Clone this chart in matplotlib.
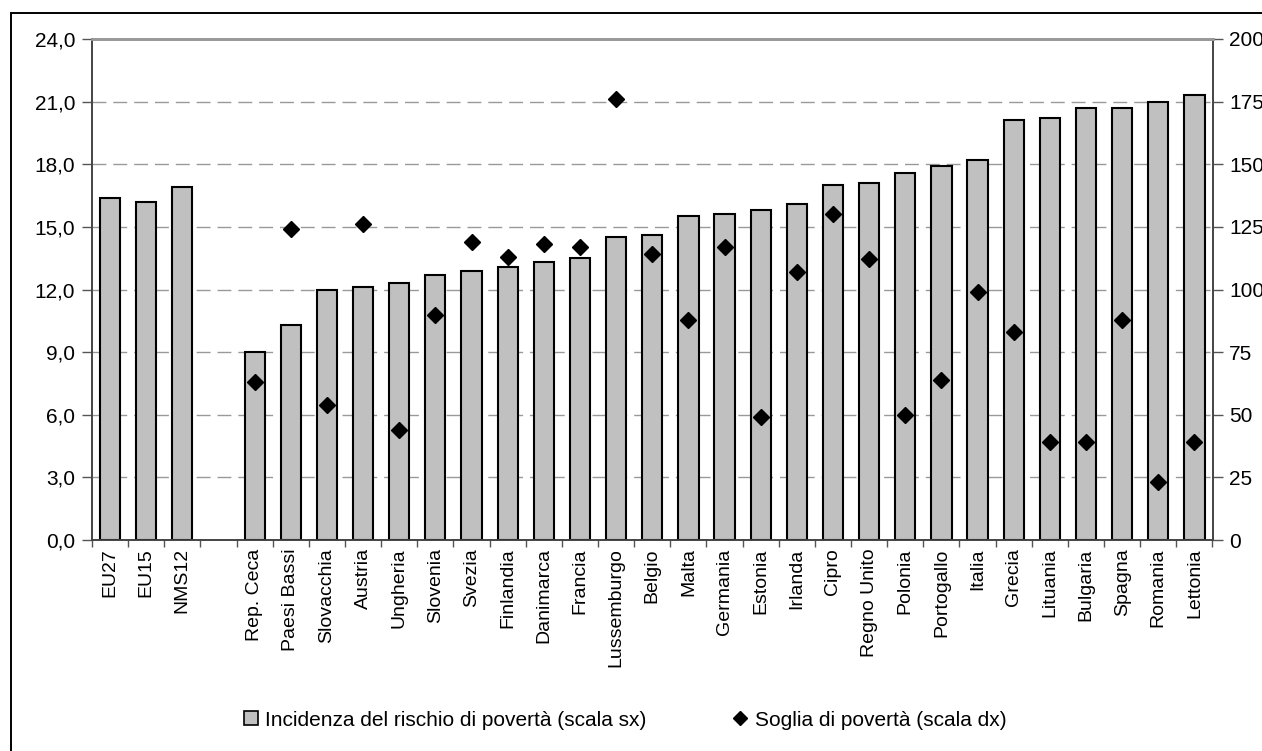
import numpy as np
import matplotlib
matplotlib.use("Agg")
import matplotlib.pyplot as plt
from matplotlib.patches import Rectangle
from matplotlib.lines import Line2D
from matplotlib.ticker import FixedLocator, FuncFormatter

plt.rcParams['font.family'] = ['Liberation Sans', 'DejaVu Sans']

## categories (empty slot separates the aggregates from the countries)
paesi = ['EU27', 'EU15', 'NMS12', '', 'Rep. Ceca', 'Paesi Bassi', 'Slovacchia',
         'Austria', 'Ungheria', 'Slovenia', 'Svezia', 'Finlandia', 'Danimarca',
         'Francia', 'Lussemburgo', 'Belgio', 'Malta', 'Germania', 'Estonia',
         'Irlanda', 'Cipro', 'Regno Unito', 'Polonia', 'Portogallo', 'Italia',
         'Grecia', 'Lituania', 'Bulgaria', 'Spagna', 'Romania', 'Lettonia']

# incidenza del rischio di poverta' (scala sx)
incidenza = [16.4, 16.2, 16.9, np.nan, 9.0, 10.3, 12.0,
             12.1, 12.3, 12.7, 12.9, 13.1, 13.3,
             13.5, 14.5, 14.6, 15.5, 15.6, 15.8,
             16.1, 17.0, 17.1, 17.6, 17.9, 18.2,
             20.1, 20.2, 20.7, 20.7, 21.0, 21.3]

# soglia di poverta' (scala dx)
soglia = [np.nan, np.nan, np.nan, np.nan, 63, 124, 54,
          126, 44, 90, 119, 113, 118,
          117, 176, 114, 88, 117, 49,
          107, 130, 112, 50, 64, 99,
          83, 39, 39, 88, 23, 39]

fig = plt.figure(figsize=(12.62, 7.51), dpi=100)

# outer frame of the chart area
fig.patches.append(Rectangle((11 / 1262, -0.05), 1.2, 1 - 13 / 751 + 0.05,
                             transform=fig.transFigure, fill=False,
                             edgecolor='black', linewidth=1.4, zorder=0))

ax = fig.add_axes([92 / 1262, 1 - 540 / 751, (1212.5 - 92) / 1262, (540 - 39) / 751])
ax2 = ax.twinx()

x = np.arange(len(paesi))
ax.bar(x, incidenza, width=0.56, color='#c0c0c0', edgecolor='black',
       linewidth=1.5, zorder=3)
ax2.plot(x, soglia, linestyle='none', marker='D', markersize=8.5,
         color='black', zorder=4)

ax.set_xlim(-0.5, len(paesi) - 0.5)
ax.set_ylim(0, 24)
ax2.set_ylim(0, 200)

yt = np.arange(0, 24.1, 3)
ax.set_yticks(yt)
ax.yaxis.set_major_formatter(FuncFormatter(lambda v, p: ('%.1f' % v).replace('.', ',')))
ax2.set_yticks(np.arange(0, 201, 25))

for v in yt[1:-1]:
    ax.axhline(v, color='#999999', linewidth=1.0, linestyle=(0, (10, 5)), zorder=1)

ax.set_xticks(x)
ax.set_xticklabels(paesi, rotation=90)
ax.xaxis.set_minor_locator(FixedLocator(np.arange(-0.5, len(paesi), 1.0)))
ax.tick_params(axis='x', which='major', length=0, pad=6, labelsize=14)
ax.tick_params(axis='x', which='minor', length=5, width=1, color='#555555', direction='out')
ax.tick_params(axis='y', length=7, width=1, color='#555555', labelsize=15, pad=5)
ax2.tick_params(axis='y', length=7, width=1, color='#555555', labelsize=15, pad=5)

for a in (ax, ax2):
    a.spines['top'].set_color('#999999')
    a.spines['top'].set_linewidth(2)
    a.spines['left'].set_color('#444444')
    a.spines['right'].set_color('#444444')
    a.spines['bottom'].set_color('#444444')
    a.spines['left'].set_linewidth(1.2)
    a.spines['right'].set_linewidth(1.2)
    a.spines['bottom'].set_linewidth(1.2)

handles = [Line2D([], [], linestyle='none', marker='s', markersize=10,
                  markerfacecolor='#c0c0c0', markeredgecolor='black', markeredgewidth=1.2),
           Line2D([], [], linestyle='none', marker='D', markersize=7, color='black')]
fig.legend(handles, ['Incidenza del rischio di povertà (scala sx)',
                     'Soglia di povertà (scala dx)'],
           loc='center', bbox_to_anchor=(0.494, 1 - 720 / 751), ncol=2, frameon=False,
           fontsize=15, handletextpad=0.2, columnspacing=4.0, handlelength=1.0)

fig.savefig('out.png', dpi=100)
